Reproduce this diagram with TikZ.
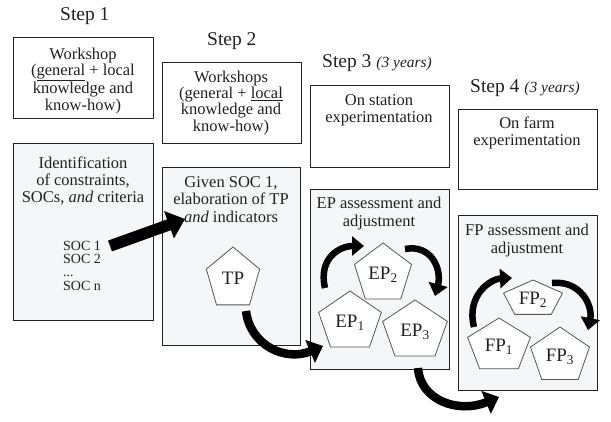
\documentclass[tikz,border=0pt]{standalone}
\usepackage{fontspec}
\setmainfont{Liberation Serif}
\usetikzlibrary{arrows.meta}
\definecolor{boxfill}{HTML}{F4F6F8}
\definecolor{ink}{HTML}{222222}
\definecolor{pentdraw}{HTML}{555555}
\newcommand\fs{\rule{0pt}{12pt}}
\tikzset{
  box/.style={draw=ink, line width=1pt, inner sep=0pt, anchor=north west, fill=white},
  lightbox/.style={box, fill=boxfill},
  boxtext/.style={inner sep=0pt, anchor=north, align=center, text=ink, font=\fontsize{16.5}{17}\selectfont},
  boxtextt/.style={boxtext, font=\fontsize{16.5}{16.4}\selectfont},
  soctext/.style={inner sep=0pt, anchor=north west, align=left, text=ink, font=\fontsize{14}{13.4}\selectfont},
  steplabel/.style={inner sep=0pt, anchor=base west, text=ink, font=\fontsize{19.5}{20}\selectfont},
  pentline/.style={draw=pentdraw, line width=0.8pt, fill=white},
  pentlabel/.style={inner sep=0pt, anchor=base, text=ink, font=\fontsize{19}{20}\selectfont},
  bigarrow/.style={draw=black, line width=11.5pt, -{Triangle[length=17pt,width=28pt]}},
  swoosh/.style={draw=black, line width=8.5pt, -{Triangle[length=14pt,width=24pt]}},
  curl/.style={draw=black, line width=6.5pt, -{Triangle[length=12pt,width=19pt]}},
}
\newcommand\pent[6]{%
  \draw[pentline] (#2,#3-#5) -- (#2-0.951*#4,#3-0.309*#5) -- (#2-0.588*#4,#3+0.809*#5)
    -- (#2+0.588*#4,#3+0.809*#5) -- (#2+0.951*#4,#3-0.309*#5) -- cycle;
  \node[pentlabel] (#1) at (#2,#3+6) {#6};
}
\begin{document}
\begin{tikzpicture}[x=1pt,y=-1pt]
\path[use as bounding box, fill=white] (0,0) rectangle (611,422);

% step labels
\node[steplabel] (s1) at (60,21) {Step 1};
\node[steplabel] (s2) at (207,46) {Step 2};
\node[steplabel] (s3) at (322,68) {Step 3 {\fontsize{15.5}{16}\selectfont\itshape (3 years)}};
\node[steplabel] (s4) at (470,93) {Step 4 {\fontsize{15.5}{16}\selectfont\itshape (3 years)}};

% boxes
\node[box, minimum width=140pt, minimum height=81pt] (b1a) at (13,37) {};
\node[lightbox, minimum width=140pt, minimum height=177pt] (b1b) at (13,143) {};
\node[box, minimum width=139pt, minimum height=81pt] (b2a) at (162,62) {};
\node[lightbox, minimum width=138pt, minimum height=178pt] (b2b) at (162,167) {};
\node[box, minimum width=139pt, minimum height=82pt] (b3a) at (310,85) {};
\node[lightbox, minimum width=139pt, minimum height=180pt] (b3b) at (310,189) {};
\node[box, minimum width=139pt, minimum height=80pt] (b4a) at (458,109) {};
\node[lightbox, minimum width=139pt, minimum height=175pt] (b4b) at (458,215) {};

% box texts
\node[boxtextt] (t1a) at (83,47) {\fs Workshop\\(\underline{general} + local\\knowledge and\\know-how)};
\node[boxtext] (t1b) at (83,156) {\fs Identification\\of constraints,\\SOCs, \textit{and} criteria};
\node[soctext] (soc) at (63,239) {\rule{0pt}{11pt}SOC 1\\SOC 2\\...\\SOC n};
\node[boxtextt] (t2a) at (231,70) {\fs Workshops\\(general + \underline{local}\\knowledge and\\know-how)};
\node[boxtext, font=\fontsize{16.5}{17.5}\selectfont] (t2b) at (231,175) {\fs Given SOC 1,\\elaboration of TP\\\textit{and} indicators};
\node[boxtext] (t3a) at (379,93) {\fs On station\\experimentation};
\node[boxtext, font=\fontsize{16.5}{18}\selectfont] (t3b) at (379,196) {\fs EP assessment and\\adjustment};
\node[boxtext] (t4a) at (527,116) {\fs On farm\\experimentation};
\node[boxtext, font=\fontsize{16.5}{18}\selectfont] (t4b) at (527,223) {\fs FP assessment and\\adjustment};

% pentagons
\pent{tp}{233}{279}{28}{32}{TP}
\pent{ep2}{383}{274}{30}{31}{EP\textsubscript{2}}
\pent{ep1}{350}{322}{33}{31}{EP\textsubscript{1}}
\pent{ep3}{415}{331}{34}{31}{EP\textsubscript{3}}
\pent{fp2}{533}{299}{31}{19}{FP\textsubscript{2}}
\pent{fp1}{499}{346}{33}{28}{FP\textsubscript{1}}
\pent{fp3}{560}{356}{31}{29}{FP\textsubscript{3}}

% arrow end points
\coordinate (a1s) at (110,246); \coordinate (a1e) at (185,219);
\coordinate (a2s) at (246,311); \coordinate (a2e) at (323,346);
\coordinate (a3s) at (418,368); \coordinate (a3e) at (499,397);
\coordinate (c1s) at (325,288); \coordinate (c1e) at (364,246);
\coordinate (c2s) at (405,249); \coordinate (c2e) at (435,296);
\coordinate (c3s) at (474,327); \coordinate (c3e) at (512,278);
\coordinate (c4s) at (552,283); \coordinate (c4e) at (588,330);

\draw[bigarrow] (a1s) -- (a1e);
\draw[swoosh] (a2s) .. controls (250,345) and (285,362) .. (a2e);
\draw[swoosh] (a3s) .. controls (420,400) and (458,414) .. (a3e);
\draw[curl] (c1s) .. controls (318,258) and (340,246) .. (c1e);
\draw[curl] (c2s) .. controls (432,244) and (442,270) .. (c2e);
\draw[curl] (c3s) .. controls (466,296) and (490,279) .. (c3e);
\draw[curl] (c4s) .. controls (580,280) and (593,305) .. (c4e);
\end{tikzpicture}
\end{document}
